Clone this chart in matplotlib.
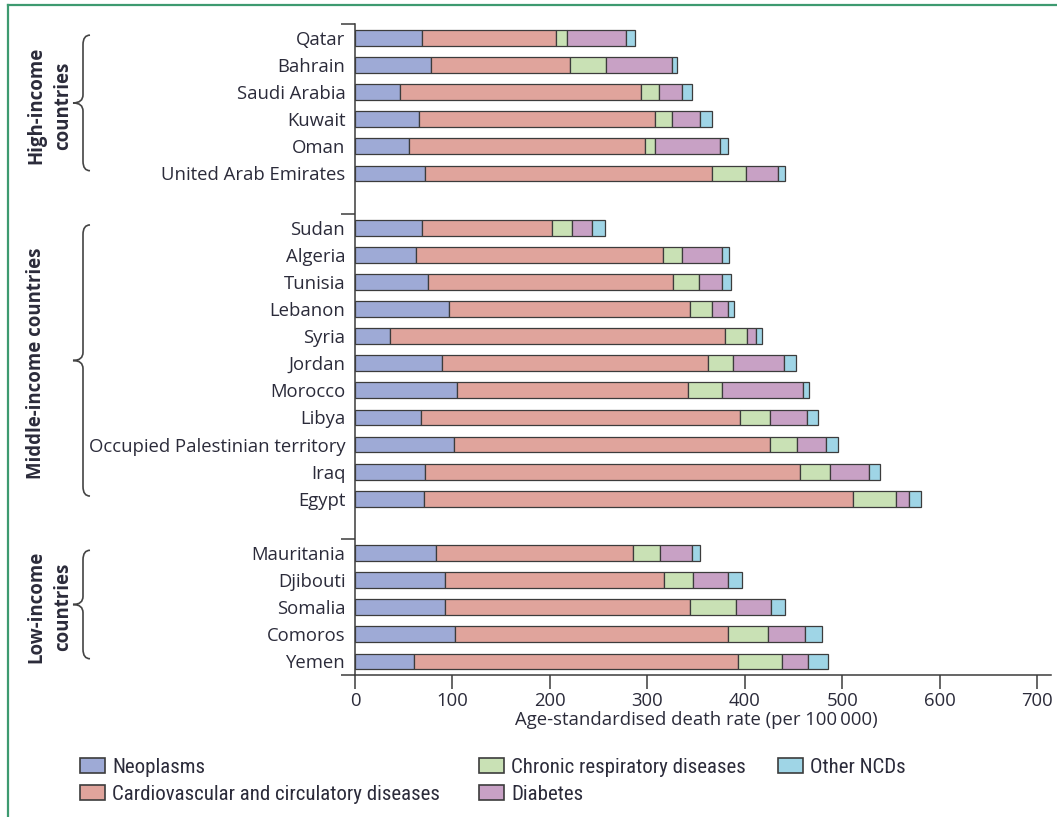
import matplotlib
matplotlib.use("Agg")
import matplotlib.pyplot as plt
import matplotlib.transforms as mtransforms
from matplotlib import font_manager
from matplotlib.path import Path
from matplotlib.patches import PathPatch, Patch
from matplotlib.lines import Line2D

# ---- data -------------------------------------------------------------
high_income = ["Qatar", "Bahrain", "Saudi Arabia", "Kuwait", "Oman",
               "United Arab Emirates"]
middle_income = ["Sudan", "Algeria", "Tunisia", "Lebanon", "Syria", "Jordan",
                 "Morocco", "Libya", "Occupied Palestinian territory", "Iraq",
                 "Egypt"]
low_income = ["Mauritania", "Djibouti", "Somalia", "Comoros", "Yemen"]

group_labels = ["High-income\ncountries", "Middle-income countries",
                "Low-income\ncountries"]

# age-standardised death rates per 100 000, in the country order above
neoplasms = [69, 78, 46, 66, 55, 72,
             69, 63, 75, 96, 36, 89, 105, 68, 102, 72, 71,
             83, 92, 92, 103, 61]
cardiovascular = [137, 143, 247, 242, 242, 294,
                  133, 253, 251, 248, 344, 273, 237, 327, 324, 384, 440,
                  202, 225, 252, 280, 332]
respiratory = [11, 36, 19, 17, 11, 35,
               21, 19, 27, 22, 22, 26, 35, 31, 27, 31, 44,
               28, 30, 47, 41, 45]
diabetes = [61, 68, 23, 29, 66, 33,
            20, 41, 23, 17, 9, 52, 83, 38, 30, 40, 13,
            33, 36, 36, 38, 27]
other_ncds = [9, 5, 11, 12, 9, 7,
              13, 8, 10, 6, 7, 12, 6, 11, 12, 12, 13,
              8, 14, 14, 17, 20]

series_names = ["Neoplasms", "Cardiovascular and circulatory diseases",
                "Chronic respiratory diseases", "Diabetes", "Other NCDs"]
series_colors = ["#9eaad6", "#e0a49c", "#c9e1b5", "#c8a1c5", "#9fd5e6"]

x_ticks = [0, 100, 200, 300, 400, 500, 600, 700]
x_label = "Age-standardised death rate (per 100\u2009000)"


# ---- fonts ------------------------------------------------------------
def first_available(families):
    for fam in families:
        try:
            font_manager.findfont(font_manager.FontProperties(family=fam),
                                  fallback_to_default=False)
            return fam
        except Exception:
            continue
    return "DejaVu Sans"


main_font = first_available(["Open Sans", "Lato", "Noto Sans", "DejaVu Sans"])
narrow_font = first_available(["Liberation Sans Narrow", "Roboto Condensed",
                               main_font])
plt.rcParams["font.family"] = [main_font, "DejaVu Sans"]

TEXT = "#2b2b3a"
EDGE = "#3c3c3c"
FS = 13.3

# ---- layout -----------------------------------------------------------
W, H = 1057, 817
fig = plt.figure(figsize=(W / 100, H / 100), dpi=100)
ax = fig.add_axes([355 / W, 142 / H, (1051 - 355) / W, (792.7 - 142) / H])

groups = [high_income, middle_income, low_income]
ypos, names, group_spans = [], [], []
y = 0
for members in groups:
    start = y
    for name in members:
        ypos.append(y)
        names.append(name)
        y += 1
    group_spans.append((start, y - 1))
    y += 1  # empty slot between groups
boundaries = [-0.5] + [s[1] + 1.5 for s in group_spans[:-1]] + [y - 1.5]

# ---- stacked bars -----------------------------------------------------
left = [0] * len(ypos)
for vals, color in zip([neoplasms, cardiovascular, respiratory, diabetes,
                        other_ncds], series_colors):
    ax.barh(ypos, vals, left=left, height=0.58, color=color,
            edgecolor=EDGE, linewidth=0.9, zorder=3)
    left = [a + b for a, b in zip(left, vals)]

ax.set_ylim(boundaries[-1], boundaries[0])
ax.set_xlim(0, 714)

ax.set_yticks(ypos, labels=names)
ax.set_yticks(boundaries, minor=True)
ax.tick_params(axis="y", which="major", length=0, pad=7, labelsize=FS,
               labelcolor=TEXT)
ax.tick_params(axis="y", which="minor", length=10, width=1.1, color=EDGE)
ax.set_xticks(x_ticks)
ax.tick_params(axis="x", length=10, width=1.1, color=EDGE, pad=2,
               labelsize=FS, labelcolor=TEXT)

for side in ("top", "right"):
    ax.spines[side].set_visible(False)
for side in ("left", "bottom"):
    ax.spines[side].set_color(EDGE)
    ax.spines[side].set_linewidth(1.1)

ax.set_xlabel(x_label, fontsize=FS, color=TEXT, labelpad=1,
              family=[main_font, "DejaVu Sans"])
ax.xaxis.label.set_x(0.49)

# ---- group braces and labels -----------------------------------------
trans = mtransforms.blended_transform_factory(fig.transFigure, ax.transData)


def draw_brace(y0, y1, xv=83, xt=90, xp=73):
    mid = (y0 + y1) / 2
    d, e = 0.35, 0.3
    pts = [(xt, y0), (xv, y0), (xv, y0 + d),
           (xv, mid - e), (xv, mid), (xp, mid),
           (xv, mid), (xv, mid + e),
           (xv, y1 - d), (xv, y1), (xt, y1)]
    codes = [Path.MOVETO, Path.CURVE3, Path.CURVE3,
             Path.LINETO, Path.CURVE3, Path.CURVE3,
             Path.CURVE3, Path.CURVE3,
             Path.LINETO, Path.CURVE3, Path.CURVE3]
    verts = [(px / W, py) for px, py in pts]
    patch = PathPatch(Path(verts, codes), facecolor="none", edgecolor="#444444",
                      linewidth=1.2, transform=trans, clip_on=False)
    fig.add_artist(patch)


for (start, end), label in zip(group_spans, group_labels):
    draw_brace(start - 0.1, end - 0.1)
    fig.text(26 / W, (start + end) / 2, label, transform=trans, rotation=90,
             ha="left", va="center", multialignment="center", fontsize=13.4,
             fontweight="bold", color=TEXT, linespacing=1.45)

# ---- legend -----------------------------------------------------------
handles = [Patch(facecolor=c, edgecolor=EDGE, linewidth=1.2, label=n)
           for n, c in zip(series_names, series_colors)]
legend_cols = [(handles[0:2], 80), (handles[2:4], 479), (handles[4:5], 778)]
prop = font_manager.FontProperties(family=narrow_font, size=15)
for col_handles, xpx in legend_cols:
    fig.legend(handles=col_handles, loc="upper left",
               bbox_to_anchor=(xpx / W, 1 - 758 / H), frameon=False,
               borderpad=0, borderaxespad=0, prop=prop, labelcolor=TEXT,
               handlelength=1.2, handleheight=0.72, handletextpad=0.35,
               labelspacing=0.36)

# ---- frame ------------------------------------------------------------
GREEN = "#3e9a70"
fig.add_artist(Line2D([8 / W, 1], [1 - 5 / H, 1 - 5 / H], color=GREEN,
                      linewidth=1.6, transform=fig.transFigure))
fig.add_artist(Line2D([8 / W, 8 / W], [0, 1 - 5 / H], color=GREEN,
                      linewidth=1.6, transform=fig.transFigure))

fig.savefig("out.png", dpi=100)
